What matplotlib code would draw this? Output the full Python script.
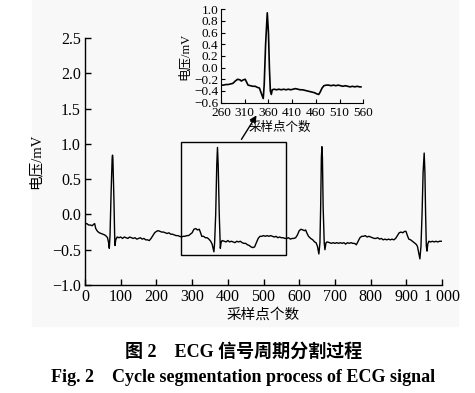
import matplotlib
matplotlib.use('Agg')
import matplotlib.pyplot as plt
from matplotlib.patches import Rectangle

plt.rcParams['font.family'] = ['Liberation Serif', 'Noto Sans CJK SC']
plt.rcParams['axes.unicode_minus'] = True

# ECG trace (sample index, mV)
ecg_x = [0, 5, 10, 15, 20, 24, 27, 30, 35, 40, 45, 50, 55, 60, 63, 66, 68, 70, 73, 76, 77, 78, 81, 83, 84, 86,
         90, 95, 100, 105, 110, 115, 120, 125, 130, 135, 140, 145, 150, 155, 160, 165, 170, 175, 180, 185, 190,
         195, 200, 205, 210, 215, 220, 225, 230, 235, 240, 245, 250, 255, 260, 265, 270, 275, 280, 285, 290,
         295, 300, 305, 310, 315, 320, 323, 327, 332, 337, 342, 347, 352, 356, 361, 363, 366, 369, 371, 373,
         376, 379, 381, 384, 390, 395, 400, 405, 410, 415, 420, 425, 430, 435, 440, 445, 450, 455, 460, 465,
         470, 475, 480, 485, 490, 495, 500, 505, 510, 515, 520, 525, 530, 535, 540, 545, 550, 555, 560, 565,
         570, 575, 580, 585, 590, 595, 600, 605, 610, 615, 618, 622, 626, 632, 638, 643, 647, 651, 655, 658,
         660, 662, 663.5, 665, 667, 670, 672, 675, 678, 685, 690, 695, 700, 705, 710, 715, 720, 725, 730, 735,
         740, 745, 750, 755, 760, 765, 770, 775, 780, 785, 790, 795, 800, 805, 810, 815, 820, 825, 830, 835,
         840, 845, 850, 855, 860, 865, 870, 875, 880, 885, 890, 895, 899, 903, 907, 912, 917, 922, 927, 931,
         935, 938, 941, 944, 947, 950, 952, 954, 956, 958, 960, 963, 968, 973, 978, 983, 988, 993, 998]
ecg_y = [-0.13, -0.13, -0.15, -0.15, -0.16, -0.14, -0.13, -0.20, -0.24, -0.26, -0.27, -0.28, -0.29, -0.31,
         -0.33, -0.40, -0.48, -0.30, 0.30, 0.80, 0.84, 0.80, 0.20, -0.30, -0.44, -0.36,
         -0.32, -0.33, -0.32, -0.34, -0.32, -0.33, -0.34, -0.32, -0.33, -0.34, -0.33, -0.35, -0.34, -0.33,
         -0.35, -0.34, -0.36, -0.36, -0.37, -0.34, -0.30, -0.26, -0.24, -0.23, -0.24, -0.25, -0.25, -0.26,
         -0.27, -0.26, -0.28, -0.28, -0.29, -0.30, -0.30, -0.31, -0.32, -0.31, -0.31, -0.30, -0.30, -0.28,
         -0.26, -0.21, -0.20, -0.22, -0.21, -0.25, -0.31, -0.31, -0.33, -0.33, -0.35, -0.38, -0.42, -0.53,
         -0.40, 0.00, 0.70, 0.95, 0.70, 0.00, -0.48, -0.40, -0.37, -0.38, -0.39, -0.37, -0.39, -0.38, -0.39,
         -0.40, -0.38, -0.39, -0.38, -0.40, -0.41, -0.41, -0.43, -0.44, -0.46, -0.47, -0.46, -0.40, -0.34,
         -0.31, -0.31, -0.30, -0.31, -0.30, -0.31, -0.30, -0.31, -0.32, -0.31, -0.33, -0.32, -0.33, -0.33,
         -0.34, -0.34, -0.33, -0.35, -0.34, -0.34, -0.33, -0.29, -0.23, -0.21, -0.22, -0.23, -0.22, -0.27,
         -0.31, -0.34, -0.36, -0.39, -0.40, -0.45, -0.56, -0.40, 0.10, 0.80, 0.96, 0.80, 0.10, -0.40, -0.50,
         -0.40, -0.39, -0.40, -0.41, -0.40, -0.41, -0.40, -0.41, -0.40, -0.41, -0.40, -0.42, -0.40, -0.41,
         -0.40, -0.41, -0.41, -0.43, -0.38, -0.33, -0.31, -0.31, -0.30, -0.32, -0.31, -0.32, -0.33, -0.34,
         -0.34, -0.33, -0.35, -0.34, -0.36, -0.35, -0.36, -0.35, -0.36, -0.35, -0.36, -0.34, -0.30, -0.26,
         -0.25, -0.26, -0.24, -0.24, -0.30, -0.35, -0.36, -0.38, -0.40, -0.42, -0.45, -0.55, -0.63, -0.45,
         0.00, 0.60, 0.87, 0.60, 0.00, -0.45, -0.52, -0.42, -0.38, -0.39, -0.38, -0.39, -0.38, -0.39, -0.38,
         -0.38]

# one cycle as drawn in the inset
cyc_x = [260, 265, 270, 275, 280, 285, 290, 295, 300, 303, 307, 311, 314, 317, 322, 327, 332, 337, 341, 344,
         349, 351, 354, 357.5, 360, 362, 364, 366, 368, 372, 377, 382, 387, 392, 397, 402, 407, 412, 417, 422,
         427, 432, 437, 442, 447, 452, 457, 462, 466, 469, 473, 477, 482, 487, 492, 497, 502, 507, 512, 517,
         522, 527, 532, 537, 542, 547, 552, 555]
cyc_y = [-0.30, -0.30, -0.29, -0.29, -0.28, -0.27, -0.23, -0.20, -0.21, -0.23, -0.21, -0.20, -0.25, -0.30,
         -0.31, -0.32, -0.32, -0.34, -0.35, -0.42, -0.53, -0.30, 0.40, 0.94, 0.60, 0.00, -0.40, -0.46, -0.38,
         -0.37, -0.38, -0.37, -0.38, -0.37, -0.38, -0.37, -0.38, -0.37, -0.36, -0.37, -0.38, -0.38, -0.39,
         -0.40, -0.41, -0.42, -0.43, -0.45, -0.46, -0.42, -0.35, -0.31, -0.30, -0.30, -0.31, -0.30, -0.31,
         -0.30, -0.31, -0.32, -0.31, -0.32, -0.33, -0.32, -0.33, -0.32, -0.33, -0.33]

main_xticks = [0, 100, 200, 300, 400, 500, 600, 700, 800, 900, 1000]
main_xlabels = ['0', '100', '200', '300', '400', '500', '600', '700', '800', '900', '1 000']
main_yticks = [-1.0, -0.5, 0.0, 0.5, 1.0, 1.5, 2.0, 2.5]
inset_xticks = [260, 310, 360, 410, 460, 510, 560]
inset_yticks = [-0.6, -0.4, -0.2, 0.0, 0.2, 0.4, 0.6, 0.8, 1.0]


def fmt(v):
    return '%.1f' % v if v >= 0 else '\u2212%.1f' % -v


fig = plt.figure(figsize=(4.75, 3.93), dpi=100)
fig.patches.append(Rectangle((32 / 475, 1 - 326 / 393), 426 / 475, 326 / 393,
                             transform=fig.transFigure, color='#f8f8f8', zorder=-10))

ax = fig.add_axes([0.179, 0.2748, 0.7516, 0.6285])
ax.patch.set_alpha(0)
ax.plot(ecg_x, ecg_y, color='black', lw=1.0)
ax.set_xlim(0, 1000)
ax.set_ylim(-1.0, 2.5)
ax.set_xticks(main_xticks)
ax.set_xticklabels(main_xlabels)
ax.set_yticks(main_yticks)
ax.set_yticklabels([fmt(v) for v in main_yticks])
for s in ['top', 'right']:
    ax.spines[s].set_visible(False)
for s in ['left', 'bottom']:
    ax.spines[s].set_linewidth(1.0)
ax.tick_params(direction='in', length=4, width=1, labelsize=11.5, pad=3)
ax.set_xlabel('采样点个数', fontsize=10.5, labelpad=2)
ax.set_ylabel('电压/mV', fontsize=10.5, labelpad=7)

ax.add_patch(Rectangle((270, -0.575), 293, 1.605, fill=False, ec='black', lw=1.0))
ax.annotate('', xy=(258 / 475, 1 - 113 / 393), xycoords='figure fraction',
            xytext=(434, 1.03), textcoords='data',
            arrowprops=dict(arrowstyle='-|>', color='black', lw=1.0, mutation_scale=10))

ins = fig.add_axes([0.4653, 0.7389, 0.2996, 0.2374])
ins.patch.set_alpha(0)
ins.plot(cyc_x, cyc_y, color='black', lw=1.2)
ins.set_xlim(260, 560)
ins.set_ylim(-0.6, 1.0)
ins.set_xticks(inset_xticks)
ins.set_yticks(inset_yticks)
ins.set_yticklabels([fmt(v) for v in inset_yticks])
for s in ['top', 'right']:
    ins.spines[s].set_visible(False)
ins.tick_params(direction='in', length=3, width=0.8, labelsize=9.5)
ins.tick_params(axis='x', pad=3)
ins.tick_params(axis='y', pad=2)
ins.set_xlabel('采样点个数', fontsize=9, labelpad=1)
ins.xaxis.set_label_coords(0.41, -0.21)
ins.set_ylabel('电压/mV', fontsize=9, labelpad=2)

fig.text(0.512, 1 - 352 / 393, '图 2\u2003ECG 信号周期分割过程', ha='center', va='center',
         fontsize=13, fontweight='bold')
fig.text(0.512, 1 - 377 / 393, 'Fig. 2\u2003Cycle segmentation process of ECG signal', ha='center',
         va='center', fontsize=13, fontweight='bold')

fig.savefig('out.png', dpi=100)
